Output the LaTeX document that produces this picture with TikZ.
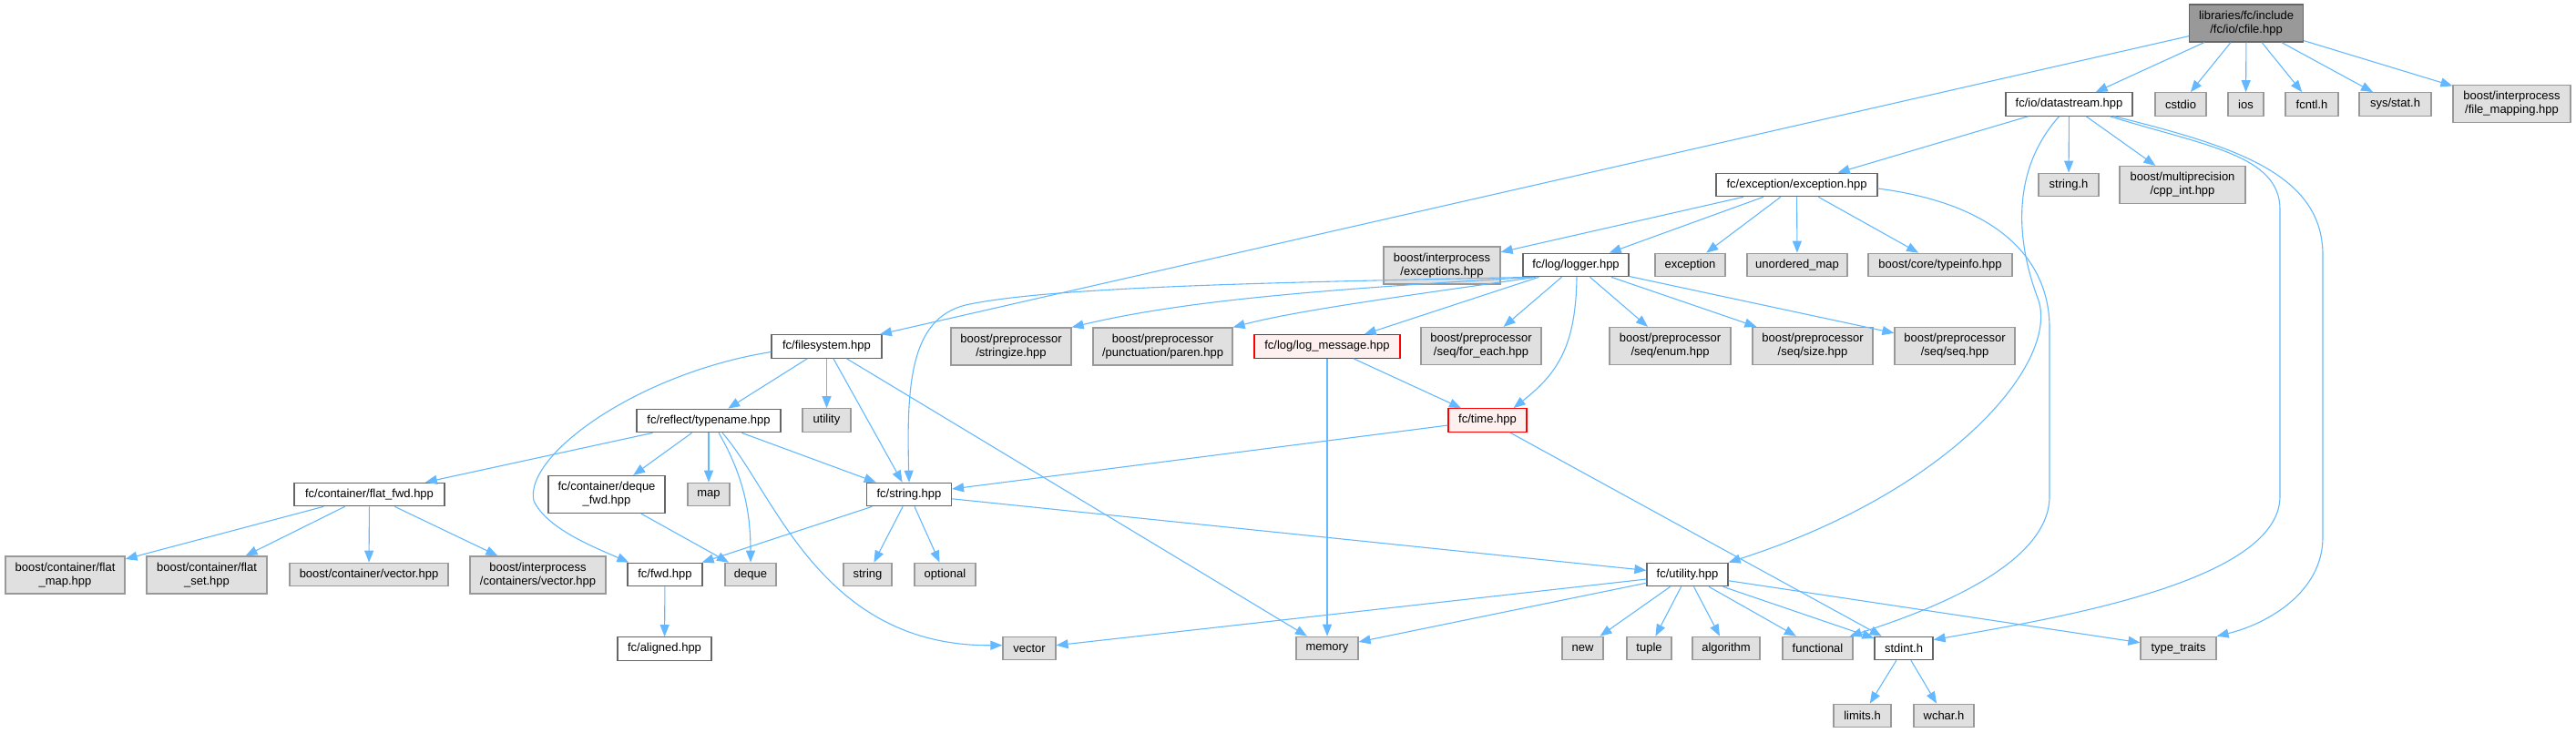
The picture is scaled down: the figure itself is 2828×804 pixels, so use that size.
\documentclass[tikz,border=0pt]{standalone}
\usepackage{fontspec}
\setmainfont{Liberation Sans}
\usepackage{tikz}
\usetikzlibrary{arrows.meta}
\definecolor{edgeblue}{HTML}{63B8FF}
\definecolor{sysfill}{HTML}{E0E0E0}
\definecolor{sysline}{HTML}{999999}
\definecolor{hdrline}{HTML}{666666}
\definecolor{badfill}{HTML}{FFF0F0}
\definecolor{badline}{HTML}{FF0000}

\begin{document}
\begin{tikzpicture}[x=1pt, y=-1pt]
\tikzset{
  box/.style={rectangle, inner sep=0pt, line width=1.2pt, align=center,
    minimum height=25.5pt, font=\fontsize{13}{15}\selectfont},
  twoline/.style={minimum height=41pt},
  root/.style={box, draw=hdrline, fill=sysline},
  hdr/.style={box, draw=hdrline, fill=white},
  sys/.style={box, draw=sysline, fill=sysfill},
  bad/.style={box, draw=badline, fill=badfill},
  dep/.style={draw=edgeblue, line width=1.1pt, -{Triangle[length=13pt, width=10pt]}},
}
  \useasboundingbox (0,0) rectangle (2828,804);

  % Row 0: the file itself
  \node[root, twoline, minimum width=125pt] (cfile) at (2466,25.5)
    {libraries/fc/include\\/fc/io/cfile.hpp};

  % Row 1
  \node[hdr, minimum width=139pt] (datastream) at (2271.5,114.5) {fc/io/datastream.hpp};
  \node[sys, minimum width=56pt] (cstdio) at (2394,114.5) {cstdio};
  \node[sys, minimum width=39pt] (ios) at (2465.5,114.5) {ios};
  \node[sys, minimum width=58pt] (fcntl) at (2538,114.5) {fcntl.h};
  \node[sys, minimum width=79pt] (sysstat) at (2629.5,114.5) {sys/stat.h};
  \node[sys, twoline, minimum width=129pt] (filemapping) at (2757.5,114)
    {boost/interprocess\\/file\_mapping.hpp};

  % Row 2
  \node[hdr, minimum width=177pt] (excpt) at (1972.5,203) {fc/exception/exception.hpp};
  \node[sys, minimum width=66pt] (stringh) at (2271,203) {string.h};
  \node[sys, twoline, minimum width=138pt] (cppint) at (2396,203)
    {boost/multiprecision\\/cpp\_int.hpp};

  % Row 3
  \node[sys, twoline, minimum width=128pt] (ipexc) at (1583,291.5)
    {boost/interprocess\\/exceptions.hpp};
  \node[hdr, minimum width=116pt] (logger) at (1730,291) {fc/log/logger.hpp};
  \node[sys, minimum width=77pt] (exception) at (1855.5,291) {exception};
  \node[sys, minimum width=110pt] (umap) at (1973,291) {unordered\_map};
  \node[sys, minimum width=158pt] (typeinfo) at (2130,291) {boost/core/typeinfo.hpp};

  % Row 4
  \node[hdr, minimum width=121pt] (filesystem) at (907.5,380.5) {fc/filesystem.hpp};
  \node[sys, twoline, minimum width=132pt] (stringize) at (1110,380.5)
    {boost/preprocessor\\/stringize.hpp};
  \node[sys, twoline, minimum width=153pt] (paren) at (1276.5,380.5)
    {boost/preprocessor\\/punctuation/paren.hpp};
  \node[bad, minimum width=160pt] (logmsg) at (1457,380.5) {fc/log/log\_message.hpp};
  \node[sys, twoline, minimum width=132pt] (foreach) at (1626,380)
    {boost/preprocessor\\/seq/for\_each.hpp};
  \node[sys, twoline, minimum width=133pt] (seqenum) at (1833.5,380)
    {boost/preprocessor\\/seq/enum.hpp};
  \node[sys, twoline, minimum width=132pt] (seqsize) at (1990,380)
    {boost/preprocessor\\/seq/size.hpp};
  \node[sys, twoline, minimum width=132pt] (seqseq) at (2146,380)
    {boost/preprocessor\\/seq/seq.hpp};

  % Row 5
  \node[hdr, minimum width=158pt] (typename) at (778,462) {fc/reflect/typename.hpp};
  \node[sys, minimum width=53pt] (utility) at (907.5,461.5) {utility};
  \node[bad, minimum width=86pt] (fctime) at (1633,461.5) {fc/time.hpp};

  % Row 6
  \node[hdr, minimum width=165pt] (flatfwd) at (405.5,543) {fc/container/flat\_fwd.hpp};
  \node[hdr, twoline, minimum width=128pt] (dequefwd) at (666,543)
    {fc/container/deque\\\_fwd.hpp};
  \node[sys, minimum width=46pt] (map) at (778,543) {map};
  \node[hdr, minimum width=93pt] (fcstring) at (998,543) {fc/string.hpp};

  % Row 7
  \node[sys, twoline, minimum width=131pt] (flatmap) at (71.5,631.5)
    {boost/container/flat\\\_map.hpp};
  \node[sys, twoline, minimum width=132pt] (flatset) at (227,631.5)
    {boost/container/flat\\\_set.hpp};
  \node[sys, minimum width=174pt] (cvector) at (405,631) {boost/container/vector.hpp};
  \node[sys, twoline, minimum width=149pt] (ipvector) at (590.5,631.5)
    {boost/interprocess\\/containers/vector.hpp};
  \node[hdr, minimum width=82pt] (fwd) at (730,631) {fc/fwd.hpp};
  \node[sys, minimum width=56pt] (deque) at (824,631) {deque};
  \node[sys, minimum width=53pt] (string) at (952.5,631) {string};
  \node[sys, minimum width=67pt] (optional) at (1037.5,631) {optional};
  \node[hdr, minimum width=89pt] (fcutility) at (1852.5,631) {fc/utility.hpp};

  % Row 8
  \node[hdr, minimum width=103pt] (aligned) at (729.5,712.5) {fc/aligned.hpp};
  \node[sys, minimum width=58pt] (vector) at (1130,712) {vector};
  \node[sys, minimum width=68pt] (memory) at (1457,712) {memory};
  \node[sys, minimum width=45pt] (new) at (1737.5,712) {new};
  \node[sys, minimum width=49pt] (tuple) at (1810.5,712) {tuple};
  \node[sys, minimum width=74pt] (algorithm) at (1895,712) {algorithm};
  \node[sys, minimum width=77pt] (functional) at (1995.5,712) {functional};
  \node[hdr, minimum width=64pt] (stdint) at (2090,712) {stdint.h};
  \node[sys, minimum width=83pt] (typetraits) at (2391.5,712) {type\_traits};

  % Row 9
  \node[sys, minimum width=63pt] (limits) at (2044.5,786) {limits.h};
  \node[sys, minimum width=66pt] (wchar) at (2134,786) {wchar.h};

  % Includes of cfile.hpp
  \foreach \t in {datastream, cstdio, ios, fcntl, sysstat, filemapping, filesystem}
    \draw[dep] (cfile) -- (\t);

  % datastream.hpp
  \foreach \t in {excpt, stringh, cppint}
    \draw[dep] (datastream) -- (\t);
  \draw[dep] ([xshift=-11pt]datastream.south) .. controls (2205,190) and (2215,270) .. (2238,330)
    .. controls (2260,400) and (2140,540) .. (fcutility.north east);
  \draw[dep] ([xshift=45pt]datastream.south) .. controls (2420,160) and (2503,170) .. (2503,230)
    -- (2503,545) .. controls (2503,640) and (2250,680) .. ([yshift=-4pt]stdint.north east);
  \draw[dep] ([xshift=50pt]datastream.south) .. controls (2450,160) and (2550,190) .. (2550,280)
    -- (2550,590) .. controls (2550,650) and (2490,685) .. (typetraits.north east);

  % exception.hpp
  \foreach \t in {ipexc, logger, exception, umap, typeinfo}
    \draw[dep] (excpt) -- (\t);
  \draw[dep] ([yshift=-4pt]excpt.east) .. controls (2200,225) and (2250,290) .. (2250,360)
    -- (2250,545) .. controls (2250,620) and (2120,670) .. ([xshift=-4pt]functional.north east);

  % logger.hpp
  \foreach \t in {logmsg, foreach, seqenum, seqsize, seqseq}
    \draw[dep] (logger) -- (\t);
  \draw[dep] ([xshift=-47pt]logger.south) .. controls (1400,310) and (1150,315) .. (1060,335)
    .. controls (1000,350) and (995,420) .. (fcstring.north);
  \draw[dep] ([xshift=-47pt]logger.south) .. controls (1450,318) and (1300,330) .. (stringize.north east);
  \draw[dep] ([xshift=-44pt]logger.south) .. controls (1520,328) and (1420,342) .. (paren.north east);
  \draw[dep] ([xshift=1pt]logger.south) .. controls (1730,380) and (1710,410) .. ([xshift=-15pt]fctime.north east);

  % log_message.hpp and time.hpp
  \draw[dep] (logmsg) -- (fctime);
  \draw[dep] (logmsg) -- (memory);
  \draw[dep] (fctime) -- (fcstring);
  \draw[dep] (fctime) -- (stdint);

  % filesystem.hpp
  \foreach \t in {typename, utility, fcstring, memory}
    \draw[dep] (filesystem) -- (\t);
  \draw[dep] ([yshift=-6pt]filesystem.west) .. controls (700,410) and (575,500) .. (586,550)
    .. controls (600,580) and (650,600) .. ([xshift=2pt]fwd.north west);

  % typename.hpp
  \foreach \t in {flatfwd, dequefwd, map, fcstring}
    \draw[dep] (typename) -- (\t);
  \draw[dep] ([xshift=11pt]typename.south) .. controls (815,520) and (824,560) .. (deque.north);
  \draw[dep] ([xshift=15pt]typename.south) .. controls (850,540) and (900,710) .. ([yshift=-10pt]vector.north west);

  % flat_fwd.hpp, deque_fwd.hpp
  \foreach \t in {flatmap, flatset, cvector, ipvector}
    \draw[dep] (flatfwd) -- (\t);
  \draw[dep] (dequefwd) -- (deque);

  % string.hpp, fwd.hpp
  \foreach \t in {fwd, string, optional, fcutility}
    \draw[dep] (fcstring) -- (\t);
  \draw[dep] (fwd) -- (aligned);

  % utility.hpp
  \foreach \t in {vector, memory, new, tuple, algorithm, functional, stdint, typetraits}
    \draw[dep] (fcutility) -- (\t);

  % stdint.h
  \draw[dep] (stdint) -- (limits);
  \draw[dep] (stdint) -- (wchar);
\end{tikzpicture}
\end{document}
